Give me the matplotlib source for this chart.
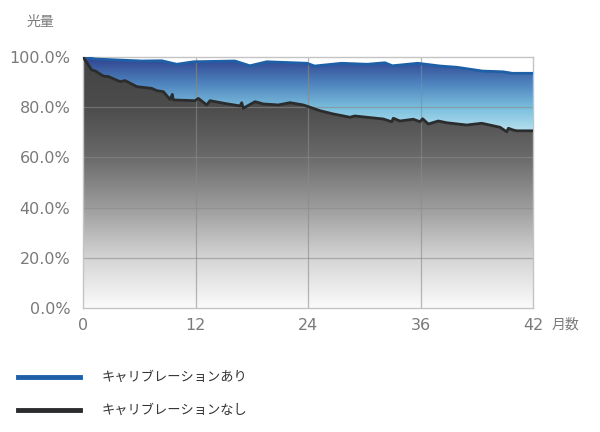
import numpy as np
import matplotlib
matplotlib.use("Agg")
import matplotlib.pyplot as plt
from matplotlib.patches import Polygon
from matplotlib.colors import LinearSegmentedColormap

# ---- data (x in axis units; last tick is labelled 42) ----
cal_x = [0, 1.3, 6.3, 8.4, 10.0, 11.8, 16.2, 17.8, 19.6, 23.9, 24.7, 27.6, 30.3,
         32.2, 33.0, 35.7, 38.1, 39.9, 42.6, 44.8, 45.8, 48]
cal_y = [100, 99.2, 98.4, 98.5, 97.1, 98.1, 98.4, 96.5, 98.1, 97.5, 96.4, 97.5, 97.1,
         97.7, 96.5, 97.5, 96.4, 95.9, 94.4, 94.1, 93.5, 93.5]

nocal_x = [0, 0.93, 1.28, 2.17, 2.7, 3.95, 4.5, 5.73, 7.33, 7.86, 8.57, 9.28, 9.53,
           9.63, 11.95, 12.3, 13.2, 13.55, 14.97, 16.75, 16.93, 17.1, 18.35, 19.23,
           20.83, 22.08, 23.5, 25.28, 26.7, 28.48, 29.0, 32.03, 32.93, 33.1, 33.8,
           35.23, 35.95, 36.23, 36.83, 37.9, 38.8, 40.93, 42.53, 44.48, 45.2, 45.37,
           45.9, 46.26, 48]
nocal_y = [100, 94.8, 94.5, 92.4, 92.2, 90.2, 90.6, 88.2, 87.5, 86.6, 86.2, 83.1, 85.1,
           82.9, 82.6, 83.5, 80.9, 82.6, 81.6, 80.5, 81.8, 79.6, 82.2, 81.3,
           80.9, 81.8, 80.9, 78.6, 77.3, 76.0, 76.5, 75.3, 74.2, 75.6, 74.5,
           75.2, 74.2, 75.4, 73.3, 74.5, 73.8, 72.9, 73.6, 72.0, 70.2, 71.6,
           70.9, 70.6, 70.6]

x_ticks = [0, 12, 24, 36, 48]
x_tick_labels = ["0", "12", "24", "36", "42"]
y_ticks = [0, 20, 40, 60, 80, 100]
y_tick_labels = ["0.0%", "20.0%", "40.0%", "60.0%", "80.0%", "100.0%"]
series_names = ["キャリブレーションあり", "キャリブレーションなし"]

plt.rcParams['font.family'] = ['Noto Sans CJK JP', 'DejaVu Sans']

fig = plt.figure(figsize=(6.0, 4.32), dpi=100)
ax = fig.add_axes([83/600, 1-308/432, 450/600, 251/432])
ax.set_xlim(0, 48)
ax.set_ylim(0, 100)

# gradient for blue area
blue_cmap = LinearSegmentedColormap.from_list(
    "b", [(0.0, "#c6e9f3"), (0.35, "#7cc0de"), (0.65, "#4f86c0"), (1.0, "#2e3f8c")])
grad_b = np.linspace(0, 1, 256).reshape(-1, 1)
poly_b = Polygon(np.column_stack([cal_x + nocal_x[::-1], cal_y + nocal_y[::-1]]),
                 closed=True, transform=ax.transData, facecolor='none', edgecolor='none')
ax.add_patch(poly_b)
im_b = ax.imshow(grad_b, cmap=blue_cmap, origin='lower', aspect='auto',
                 extent=[0, 48, 68, 100], zorder=1)
im_b.set_clip_path(poly_b)

# gradient for gray area
gray_cmap = LinearSegmentedColormap.from_list(
    "g", [(0.0, "#fbfbfb"), (0.2, "#d4d4d4"), (0.4, "#9d9d9d"), (0.6, "#6a6a6a"),
          (0.8, "#4c4c4c"), (1.0, "#444444")])
poly_g = Polygon(np.column_stack([nocal_x + [48, 0], nocal_y + [0, 0]]),
                 closed=True, transform=ax.transData, facecolor='none', edgecolor='none')
ax.add_patch(poly_g)
im_g = ax.imshow(grad_b, cmap=gray_cmap, origin='lower', aspect='auto',
                 extent=[0, 48, 0, 100], zorder=1)
im_g.set_clip_path(poly_g)

# grid on top
for v in [12, 24, 36]:
    ax.axvline(v, color="#8a8a8a", lw=0.9, alpha=0.6, zorder=2)
for v in [20, 40, 60, 80]:
    ax.axhline(v, color="#8a8a8a", lw=0.9, alpha=0.6, zorder=2)

blue_c = "#1f5fa6"
black_c = "#2a2c2e"
ax.plot(cal_x, cal_y, color=blue_c, lw=2.0, zorder=3, solid_joinstyle='round')
ax.plot(nocal_x, nocal_y, color=black_c, lw=2.0, zorder=3, solid_joinstyle='round')

for s in ax.spines.values():
    s.set_color("#c4c4c4")
    s.set_linewidth(1.0)

ax.set_xticks(x_ticks)
ax.set_xticklabels(x_tick_labels, family=['DejaVu Sans'])
ax.set_yticks(y_ticks)
ax.set_yticklabels(y_tick_labels, family=['DejaVu Sans'])
ax.tick_params(length=0, colors="#7a7a7a", labelsize=11.5)
ax.tick_params(axis='x', pad=7)
ax.tick_params(axis='y', pad=9)

fig.text(40/600, 1-22/432, "光量", ha='center', va='center', color="#7a7a7a", fontsize=10)
fig.text(565/600, 1-325/432, "月数", ha='center', va='center', color="#7a7a7a", fontsize=10)

# legend
for yy, c, name in [(377, blue_c, series_names[0]), (410, black_c, series_names[1])]:
    fig.add_artist(plt.Line2D([18/600, 80/600], [1-yy/432, 1-yy/432], color=c, lw=3.5))
    fig.text(102/600, 1-yy/432, name, ha='left', va='center', color="#333333", fontsize=9.5)

fig.savefig("out.png", dpi=100)
